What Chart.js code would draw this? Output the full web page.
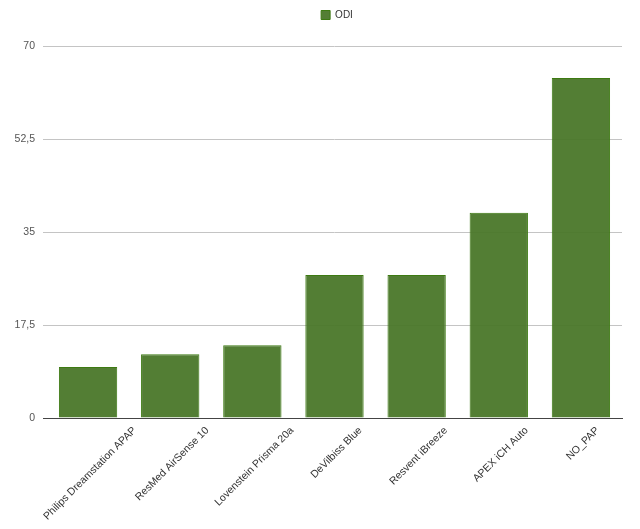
<!DOCTYPE html>
<html>
<head>
<meta charset="utf-8">
<script src="https://cdn.jsdelivr.net/npm/chart.js@4/dist/chart.umd.min.js"></script>
<style>
  html, body { margin: 0; padding: 0; background: #fff; }
  #wrap { width: 640px; height: 529px; }
</style>
</head>
<body>
<div id="wrap"><canvas id="chart"></canvas></div>
<script>
const categories = [
  "Philips Dreamstation APAP",
  "ResMed AirSense 10",
  "Lovenstein Prisma 20a",
  "DeVilbiss Blue",
  "Resvent iBreeze",
  "APEX iCH Auto",
  "NO_PAP"
]
const odiValues = [9.6, 12.0, 13.7, 26.9, 26.9, 38.6, 64.0]
const yTickLabels = ["0", "17,5", "35", "52,5", "70"]

const FONT = "'Liberation Sans', Arial, sans-serif"
Chart.defaults.font.family = FONT
Chart.defaults.font.size = 10.5

// rotated x labels, centred under each bar (like the original export)
const centeredXLabels = {
  id: "centeredXLabels",
  afterDraw(chart) {
    const { ctx, scales: { x } } = chart
    const top = x.top + 7
    const fontSize = 10.5
    ctx.save()
    ctx.font = fontSize + "px " + FONT
    ctx.fillStyle = "#333"
    ctx.textAlign = "center"
    ctx.textBaseline = "middle"
    chart.data.labels.forEach((label, i) => {
      const w = ctx.measureText(label).width
      const cx = x.getPixelForTick(i) + 2
      const cy = top + (w + fontSize) * Math.SQRT1_2 / 2
      ctx.save()
      ctx.translate(cx, cy)
      ctx.rotate(-Math.PI / 4)
      ctx.fillText(label, 0, 0)
      ctx.restore()
    })
    ctx.restore()
  }
}

// legend sits centred over the plot area, not the whole canvas
const legendShift = {
  id: "legendShift",
  afterLayout(chart) {
    chart.legend.left += 26
    chart.legend.right += 26
  }
}

const chart = new Chart(document.getElementById("chart"), {
  type: "bar",
  data: {
    labels: categories,
    datasets: [{
      label: "ODI",
      data: odiValues,
      backgroundColor: "rgba(74, 119, 41, 0.95)",
      borderColor: "#3d7a12",
      borderWidth: 1,
      barPercentage: 0.71,
      categoryPercentage: 1.0
    }]
  },
  options: {
    responsive: true,
    maintainAspectRatio: false,
    animation: false,
    layout: { padding: { left: 0, right: 18, top: 0, bottom: 0 } },
    plugins: {
      legend: {
        labels: { boxWidth: 9, boxHeight: 9, color: "#333", padding: 10, font: { size: 10 } }
      },
      tooltip: { enabled: false }
    },
    scales: {
      y: {
        min: 0,
        max: 70,
        ticks: {
          stepSize: 17.5,
          color: "#555",
          padding: 8,
          callback: (v, i) => yTickLabels[i]
        },
        grid: {
          color: ctx => ctx.tick && ctx.tick.value === 0 ? "#444" : "#c4c4c4",
          tickLength: 4
        },
        border: { display: false },
        afterFit: s => { s.width = 47 }
      },
      x: {
        ticks: { display: false },
        grid: { display: false },
        border: { color: "#444" },
        afterFit: s => { s.height = 111 }
      }
    }
  },
  plugins: [centeredXLabels, legendShift]
})

// push chart area top down to match the reference
chart.legend.fit = (orig => function () { orig.call(this); this.height = 46 })(chart.legend.fit)
chart.update()
</script>
</body>
</html>
